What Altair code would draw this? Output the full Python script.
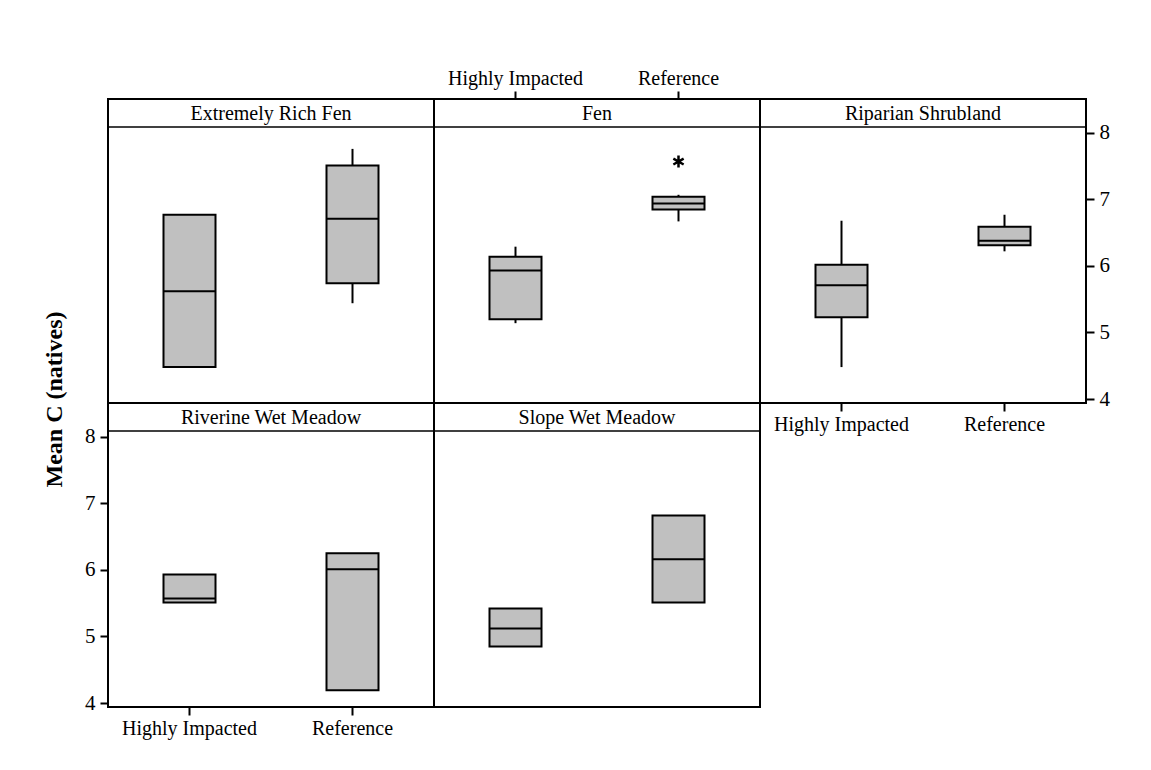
import altair as alt
import pandas as pd

FONT = "Liberation Serif"

panels = ["Extremely Rich Fen", "Fen", "Riparian Shrubland", "Riverine Wet Meadow", "Slope Wet Meadow"]
groups = ["Highly Impacted", "Reference"]

# per panel: [Highly Impacted, Reference]
whisker_low = [[4.48, 5.44], [5.14, 6.67], [4.48, 6.22], [5.51, 4.19], [4.85, 5.51]]
q1 = [[4.48, 5.74], [5.20, 6.85], [5.23, 6.31], [5.51, 4.19], [4.85, 5.51]]
median = [[5.62, 6.71], [5.93, 6.94], [5.71, 6.38], [5.57, 6.01], [5.12, 6.16]]
q3 = [[6.77, 7.51], [6.14, 7.04], [6.02, 6.59], [5.93, 6.25], [5.42, 6.82]]
whisker_high = [[6.77, 7.76], [6.29, 7.07], [6.68, 6.77], [5.93, 6.25], [5.42, 6.82]]

outlier_panel = ["Fen"]
outlier_group = ["Reference"]
outlier_value = [7.57]

y_ticks = [4, 5, 6, 7, 8]
y_title = "Mean C (natives)"

rows = []
for i, p in enumerate(panels):
    for j, g in enumerate(groups):
        rows.append(dict(panel=p, group=g, lo=whisker_low[i][j], q1=q1[i][j],
                         med=median[i][j], q3=q3[i][j], hi=whisker_high[i][j]))
box_df = pd.DataFrame(rows)
out_df = pd.DataFrame(dict(panel=outlier_panel, group=outlier_group, value=outlier_value))

W, H, STRIP = 326, 304, 28
YDOM = [3.94, 8.51]
ASTERISK = "M0,-1L0,1M-0.87,-0.5L0.87,0.5M-0.87,0.5L0.87,-0.5"


def panel(name, x_orient=None, y_orient=None, y_axis_title=False):
    if x_orient:
        xaxis = alt.Axis(orient=x_orient, title=None, domain=False, ticks=True, tickSize=8,
                         tickWidth=2, tickColor="black", labelFont=FONT, labelFontSize=20,
                         labelColor="black", labelPadding=3, labelAngle=0, grid=False)
    else:
        xaxis = None
    if y_orient:
        kw = dict(orient=y_orient, values=y_ticks, format="d", domain=False, ticks=True,
                  tickSize=8, tickWidth=2, tickColor="black", labelFont=FONT,
                  labelFontSize=21, labelColor="black", labelPadding=5, grid=False)
        if y_axis_title:
            kw.update(title=y_title, titleFont=FONT, titleFontSize=24, titleFontWeight="bold",
                      titleColor="black", titleX=-54, titleY=-4, titleAngle=270,
                      titleAlign="center", titleBaseline="middle")
        else:
            kw.update(title=None)
        yaxis = alt.Axis(**kw)
    else:
        yaxis = None

    xs = alt.Scale(domain=groups, paddingInner=0, paddingOuter=0)
    ys = alt.Scale(domain=YDOM, nice=False, zero=False)
    x = alt.X("group:N", scale=xs, axis=xaxis)

    base = alt.Chart(box_df).transform_filter(alt.datum.panel == name)
    lower = base.mark_rule(color="black", strokeWidth=2).encode(
        x=x, y=alt.Y("lo:Q", scale=ys, axis=yaxis), y2="q1:Q")
    upper = base.mark_rule(color="black", strokeWidth=2).encode(
        x=x, y=alt.Y("q3:Q", scale=ys), y2="hi:Q")
    box = base.mark_bar(size=52, fill="#C0C0C0", stroke="black", strokeWidth=2,
                        opacity=1).encode(
        x=x, y=alt.Y("q1:Q", scale=ys), y2="q3:Q")
    med = base.mark_tick(size=52, thickness=2, color="black", orient="horizontal",
                         opacity=1).encode(
        x=x, y=alt.Y("med:Q", scale=ys))
    layers = [lower, upper, box, med]
    if name in outlier_panel:
        outs = alt.Chart(out_df).transform_filter(alt.datum.panel == name).mark_point(
            shape=ASTERISK, filled=False, stroke="black", strokeWidth=2.5, size=140,
            opacity=1).encode(
            x=x, y=alt.Y("value:Q", scale=ys))
        layers.append(outs)
    strip_df = pd.DataFrame(dict(label=[name]))
    strip_line = alt.Chart(strip_df).mark_rule(color="black", strokeWidth=1.5).encode(
        x=alt.value(0), x2=alt.value(W), y=alt.value(STRIP))
    strip_text = alt.Chart(strip_df).mark_text(font=FONT, fontSize=20, color="black",
                                                baseline="middle", align="center").encode(
        x=alt.value(W / 2), y=alt.value(STRIP / 2 + 1), text="label:N")
    layers += [strip_line, strip_text]
    return alt.layer(*layers).properties(width=W, height=H)


p1 = panel(panels[0])
p2 = panel(panels[1], x_orient="top")
p3 = panel(panels[2], x_orient="bottom", y_orient="right")
p4 = panel(panels[3], x_orient="bottom", y_orient="left", y_axis_title=True)
p5 = panel(panels[4])

chart = alt.concat(p1, p2, p3, p4, p5, columns=3, spacing=0, bounds="flush").properties(
    padding={"left": 32, "top": 59, "right": 5, "bottom": 5},
    background="white",
).configure_view(stroke="black", strokeWidth=2)

chart.save("out.html", embed_options={"renderer": "svg", "actions": False})
